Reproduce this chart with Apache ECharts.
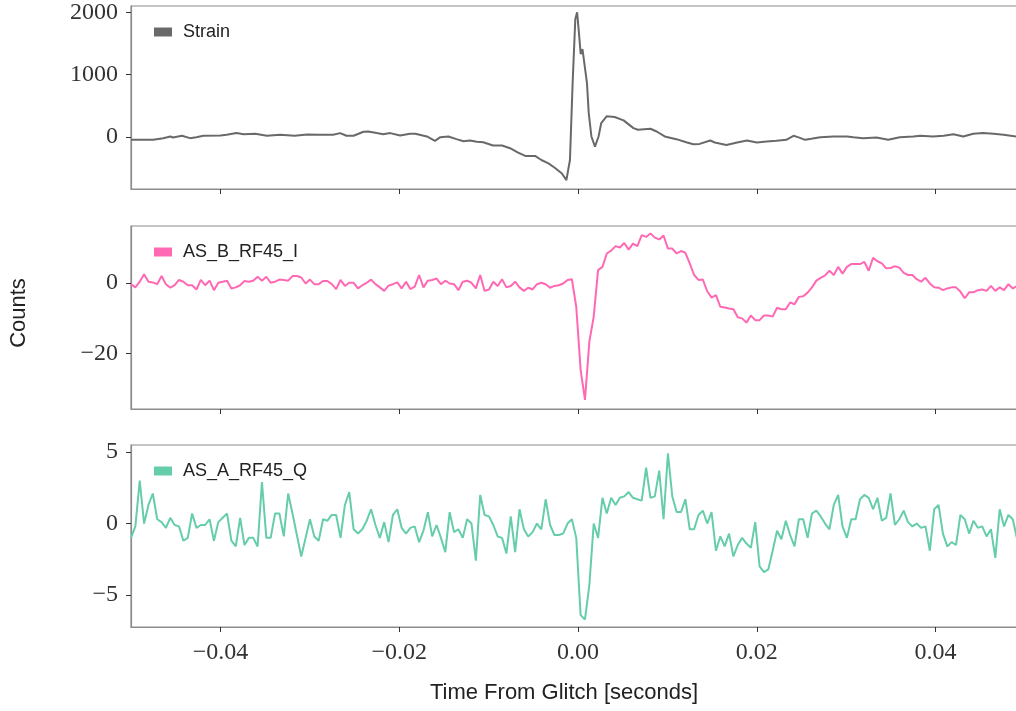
<!DOCTYPE html>
<html>
<head>
<meta charset="utf-8">
<script src="https://cdn.jsdelivr.net/npm/echarts@6/dist/echarts.min.js"></script>
<style>
  html, body { margin: 0; padding: 0; background: #fff; }
  #chart { width: 1016px; height: 711px; }
</style>
</head>
<body>
<div id="chart"></div>
<script>
// glitch channels, sampled at 2048 Hz starting at -0.05 s
const sampleRate = 2048
const startTime = -0.05

// strain is smoother, so it keeps its own time stamps
const strainTime = [-0.0500,-0.0475,-0.0464,-0.0456,-0.0453,-0.0443,-0.0434,-0.0427,-0.0419,-0.0400,
  -0.0393,-0.0382,-0.0374,-0.0361,-0.0348,-0.0333,-0.0317,-0.0303,-0.0289,-0.0274,
  -0.0266,-0.0259,-0.0251,-0.0240,-0.0235,-0.0225,-0.0218,-0.0210,-0.0199,-0.0188,
  -0.0182,-0.0169,-0.0160,-0.0154,-0.0145,-0.0136,-0.0128,-0.0121,-0.0113,-0.0106,
  -0.0095,-0.0085,-0.0076,-0.0067,-0.0059,-0.0048,-0.0041,-0.0033,-0.0026,-0.0018,
  -0.0013,-0.0009,-0.0006,-0.0003,-0.0001,0.0001,0.0003,0.0005,0.0007,0.0010,
  0.0012,0.0015,0.0019,0.0023,0.0026,0.0032,0.0041,0.0051,0.0062,0.0067,
  0.0081,0.0088,0.0097,0.0110,0.0122,0.0129,0.0136,0.0148,0.0153,0.0166,
  0.0178,0.0189,0.0200,0.0211,0.0222,0.0233,0.0241,0.0246,0.0254,0.0261,
  0.0271,0.0286,0.0301,0.0308,0.0319,0.0334,0.0347,0.0360,0.0375,0.0383,
  0.0397,0.0409,0.0420,0.0431,0.0442,0.0453,0.0465,0.0476,0.0490,0.0500]
const strainValues = [-43,-43,-16,11,-5,22,-16,0,22,27,
  38,65,48,54,22,38,22,43,38,38,
  65,22,22,86,91,65,48,65,27,54,
  54,11,-59,0,11,-32,-65,-54,-75,-81,
  -134,-134,-177,-247,-301,-301,-366,-419,-489,-581,
  -688,-366,871,1892,2000,1677,1328,1409,1435,871,
  387,11,-151,11,226,333,323,269,145,118,
  134,91,11,-32,-86,-113,-108,-54,-86,-124,
  -86,-54,-86,-70,-59,-43,22,0,-43,-27,
  0,11,11,0,-16,-5,-43,0,11,22,
  11,22,48,11,54,65,54,38,11,5]

const asbI = [-0.4,-1.3,0.3,2.4,0.3,0.1,-0.4,1.9,-0.4,-1.4,
  -0.7,0.8,0.3,-0.7,-0.7,-1.9,0.8,-0.7,0.6,-2.1,
  0.0,0.3,0.6,-1.6,-1.3,-0.7,0.5,0.3,0.6,1.7,
  0.6,1.7,0.0,0.3,0.9,0.8,0.6,1.9,1.9,1.5,
  -0.2,0.9,-0.4,-0.4,0.5,0.5,-0.4,-1.8,0.8,-0.9,
  0.0,0.0,-1.6,-0.7,0.0,0.9,-0.4,-1.3,-2.3,-0.8,
  -0.4,0.1,-1.6,0.3,-1.8,-1.1,2.2,-1.3,0.6,0.8,
  1.2,-0.4,0.6,-0.2,-0.4,-2.1,0.3,0.6,0.0,-1.6,
  2.2,-2.3,-1.9,0.3,-0.9,1.0,-1.3,-0.9,0.3,-1.3,
  -2.3,-1.4,-1.9,-0.4,0.0,-0.4,-1.4,-0.9,-0.7,-0.2,
  0.8,1.0,-6.8,-24.7,-33.2,-16.7,-9.6,3.6,4.5,8.3,
  9.1,10.4,10.0,11.3,9.4,11.1,10.4,13.5,13.0,14.0,
  12.8,12.3,13.4,9.7,9.7,8.3,9.0,8.5,5.5,2.2,
  0.8,0.9,-2.4,-4.2,-3.5,-6.8,-7.0,-7.3,-7.5,-9.8,
  -10.1,-11.3,-9.3,-10.6,-10.6,-9.3,-9.3,-9.6,-7.1,-7.5,
  -7.5,-5.6,-6.1,-4.0,-3.8,-2.8,-1.3,0.6,1.4,2.1,
  3.4,2.2,4.5,2.6,4.5,5.3,5.3,5.3,5.9,3.4,
  7.1,6.1,5.5,4.1,4.2,4.7,4.3,2.8,2.2,2.2,
  1.0,0.3,1.4,-0.2,-1.3,-1.4,-2.1,-1.6,-1.3,-1.3,
  -2.5,-4.4,-2.7,-2.7,-2.1,-1.9,-2.3,-0.9,-2.3,-1.3,
  -2.1,-0.4,-1.6,-0.9]

const asaQ = [-1.0,-0.2,3.0,0.0,1.3,2.1,0.3,0.1,-0.3,0.4,
  -0.1,-0.2,-1.2,-1.0,0.7,-0.3,-0.1,-0.1,0.3,-1.2,
  0.1,0.4,0.7,-1.2,-1.6,0.4,-1.5,-1.0,-1.0,-1.6,
  2.9,-1.0,-1.0,0.7,0.7,-0.9,2.1,0.7,-0.8,-2.3,
  -1.0,0.3,-0.9,-1.2,0.3,0.2,0.6,0.6,-1.0,1.3,
  2.2,-0.4,-0.7,-0.4,0.2,1.0,-0.1,-1.0,0.1,-1.3,
  0.6,1.0,-0.3,-0.7,-0.3,-0.2,-1.3,-0.5,0.8,-0.9,
  -0.1,-1.0,-2.0,0.8,-0.6,-0.4,-1.0,0.3,0.0,-2.6,
  2.0,0.6,0.5,-0.1,-0.9,-1.0,-2.1,0.5,-2.0,1.0,
  -0.4,-0.9,-0.6,0.0,-0.4,1.7,-0.1,-0.8,-0.8,-0.7,
  0.0,0.3,-1.0,-6.4,-6.7,-4.3,0.0,-1.0,1.8,0.7,
  1.8,1.3,1.8,1.9,2.2,1.8,1.7,1.6,3.9,1.8,
  1.9,3.7,0.3,4.9,1.9,0.8,0.8,1.7,-0.4,-0.4,
  0.6,0.9,0.0,0.8,-1.9,-0.9,-1.6,-0.7,-2.3,-1.5,
  -1.0,-1.4,-1.7,0.1,-3.0,-3.4,-3.2,-1.9,-0.5,-1.1,
  0.2,-0.8,-1.6,0.3,0.3,-1.0,0.7,0.9,0.5,0.0,
  -0.4,1.3,2.0,-0.2,-1.0,0.3,0.3,1.7,2.0,1.8,
  1.0,1.8,0.2,0.4,2.1,-0.1,0.3,0.9,0.1,-0.2,
  0.0,-0.3,-0.2,-1.9,1.0,1.3,-0.7,-1.6,-1.3,-1.5,
  0.6,0.3,-0.7,0.2,-0.3,-0.2,-0.9,-0.4,-2.4,1.0,
  -0.2,0.6,0.3,-1.1]

const xTicks = [-0.04, -0.02, 0, 0.02, 0.04]
const strainTicks = [0, 1000, 2000]
const asbTicks = [-20, 0]
const asaTicks = [-5, 0, 5]

const names = ['Strain', 'AS_B_RF45_I', 'AS_A_RF45_Q']
const colors = ['#696969', '#ff69b4', '#66cdaa']

function pairs(times, vals) {
  return vals.map((v, i) => [times[i], v])
}
function sampled(vals) {
  return vals.map((v, i) => [startTime + i / sampleRate, v])
}
function minus(s) {
  return s.replace('-', '\u2212')
}

const tickFont = { fontFamily: 'Liberation Serif', fontSize: 24, color: '#333' }
const frame = '#8c8c8c'

// three stacked panels, the right edge runs off the canvas like the original
const panels = [
  { top: 6, height: 183, min: -830, max: 2100, ticks: strainTicks, legendTop: 18 },
  { top: 226, height: 183, min: -35.8, max: 16.1, ticks: asbTicks, legendTop: 238 },
  { top: 445, height: 182, min: -7.23, max: 5.49, ticks: asaTicks, legendTop: 457 }
]

const option = {
  animation: false,
  backgroundColor: '#fff',
  grid: panels.map(p => ({
    left: 131, width: 894, top: p.top, height: p.height,
    show: true, borderColor: frame, borderWidth: 1.2, backgroundColor: 'transparent',
    containLabel: false, outerBoundsMode: 'none'
  })),
  xAxis: panels.map((p, i) => ({
    type: 'value', gridIndex: i, min: -0.05, max: 0.05,
    axisLine: { show: true, onZero: false, lineStyle: { color: frame, width: 1.2 } },
    axisTick: { show: true, inside: false, length: 5, customValues: xTicks, lineStyle: { color: '#333', width: 1 } },
    axisLabel: {
      show: i === 2, customValues: xTicks, margin: 14, ...tickFont,
      formatter: v => minus(v.toFixed(2))
    },
    splitLine: { show: false }
  })),
  yAxis: panels.map((p, i) => ({
    type: 'value', gridIndex: i, min: p.min, max: p.max,
    axisLine: { show: true, onZero: false, lineStyle: { color: frame, width: 1.2 } },
    axisTick: { show: true, inside: false, length: 5, customValues: p.ticks, lineStyle: { color: '#333', width: 1 } },
    axisLabel: { show: true, customValues: p.ticks, margin: 13, ...tickFont, formatter: v => minus(String(v)) },
    splitLine: { show: false }
  })),
  legend: panels.map((p, i) => ({
    data: [names[i]], left: 149, top: p.legendTop,
    icon: 'rect', itemWidth: 18, itemHeight: 9, itemGap: 10,
    textStyle: { fontFamily: 'Liberation Sans', fontSize: 18, color: '#222', padding: [0, 0, 0, 6] },
    selectedMode: false
  })),
  series: [
    { name: names[0], type: 'line', xAxisIndex: 0, yAxisIndex: 0, data: pairs(strainTime, strainValues) },
    { name: names[1], type: 'line', xAxisIndex: 1, yAxisIndex: 1, data: sampled(asbI) },
    { name: names[2], type: 'line', xAxisIndex: 2, yAxisIndex: 2, data: sampled(asaQ) }
  ].map((s, i) => ({
    ...s, showSymbol: false, symbol: 'none', clip: true,
    lineStyle: { color: colors[i], width: 2 }, itemStyle: { color: colors[i] }
  })),
  graphic: [
    {
      type: 'text', x: 19, y: 313, rotation: Math.PI / 2,
      style: { text: 'Counts', fontFamily: 'Liberation Sans', fontSize: 22, fill: '#222',
        align: 'center', verticalAlign: 'middle', textAlign: 'center', textVerticalAlign: 'middle' }
    },
    {
      type: 'text', x: 564, y: 693,
      style: { text: 'Time From Glitch [seconds]', fontFamily: 'Liberation Sans', fontSize: 22, fill: '#222',
        align: 'center', verticalAlign: 'middle', textAlign: 'center', textVerticalAlign: 'middle' }
    }
  ]
}

const chart = echarts.init(document.getElementById('chart'), null, { renderer: 'canvas' })
chart.setOption(option)
</script>
</body>
</html>
